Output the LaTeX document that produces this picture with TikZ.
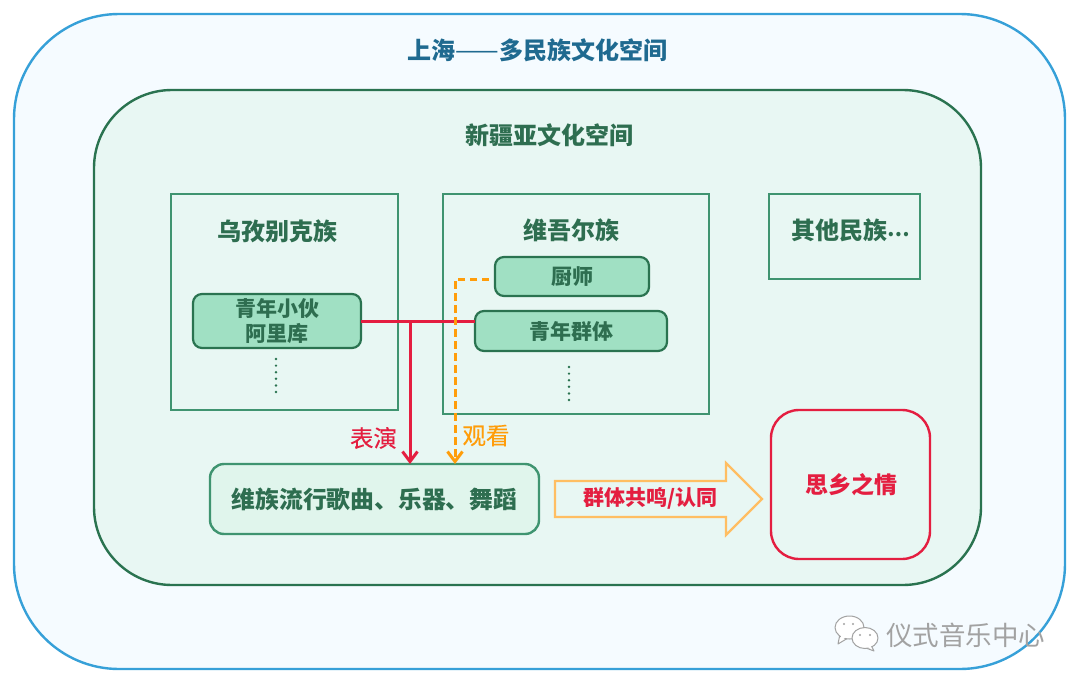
\documentclass[tikz,border=0pt]{standalone}
\usepackage{fontspec}
\usetikzlibrary{arrows.meta}
\newfontfamily\cjk{Noto Sans CJK SC}
\newfontfamily\cjkmed[FakeBold=0.25]{Noto Sans CJK SC}
\definecolor{outerline}{HTML}{36A0D8}
\definecolor{outerfill}{HTML}{F5FBFF}
\definecolor{innerline}{HTML}{2A7350}
\definecolor{innerfill}{HTML}{E8F7F3}
\definecolor{boxline}{HTML}{3F9470}
\definecolor{chipfill}{HTML}{A0E0C3}
\definecolor{songfill}{HTML}{E0F5EC}
\definecolor{titleblue}{HTML}{1F6A90}
\definecolor{txtgreen}{HTML}{2E6E50}
\definecolor{hotred}{HTML}{E41E40}
\definecolor{amber}{HTML}{FF9D0A}
\definecolor{arrowline}{HTML}{FFBE62}
\definecolor{markgrey}{HTML}{A2A2A2}
\tikzset{
  x=1pt,y=-1pt,
  every node/.style={inner sep=0pt,outer sep=0pt,font=\cjk},
  panel/.style={draw=boxline,line width=2.2pt,fill=innerfill,rectangle},
  chip/.style={draw=innerline,line width=2.2pt,fill=chipfill,rounded corners=9pt,rectangle},
  hd/.style={text=txtgreen,font=\cjk\bfseries\fontsize{24}{28}\selectfont},
  sub/.style={text=txtgreen,font=\cjk\bfseries\fontsize{21}{25}\selectfont,align=center},
  rise/.style={font=\cjkmed\fontsize{23.5}{28}\selectfont},
  vdots/.style={draw=innerline,line width=2.7pt,line cap=round,dash pattern=on 0pt off 6.6pt},
  bubble/.style={draw=markgrey,line width=1pt,fill=white,line join=round},
  barb/.style={-{Straight Barb[length=10pt,width=15pt,line width=3pt]}},
}
\begin{document}
\begin{tikzpicture}
\useasboundingbox (0,0) rectangle (1080,683);
\fill[white] (0,0) rectangle (1080,683);
% containers
\node[draw=outerline,fill=outerfill,line width=2.4pt,rounded corners=105pt,minimum width=1051pt,minimum height=655pt] (outer) at (539.5,341.5) {};
\node[draw=innerline,fill=innerfill,line width=2.4pt,rounded corners=78pt,minimum width=887pt,minimum height=495pt] (inner) at (537.5,337.5) {};
\node[text=titleblue,font=\cjk\bfseries\fontsize{24}{28}\selectfont] (title) at (537.5,50) {上海{\mdseries\fontsize{26}{28}\selectfont ——}多民族文化空间};
\node[hd] (subtitle) at (549,135) {新疆亚文化空间};
% groups
\node[panel,minimum width=227pt,minimum height=216pt] (uzbek) at (284.5,302) {};
\node[panel,minimum width=266pt,minimum height=220pt] (uyghur) at (576,304) {};
\node[panel,minimum width=151pt,minimum height=85pt] (others) at (844.5,236.5) {};
\node[hd] (uzbekt) at (277,231) {乌孜别克族};
\node[hd] (uyghurt) at (571.5,230) {维吾尔族};
\node[hd,anchor=west] (otherst) at (791,230) {其他民族\raisebox{3pt}{\fontsize{20}{28}\selectfont ⋯}};
% chips
\node[chip,sub,minimum width=168pt,minimum height=54pt] (youth) at (277,321) {青年小伙\\阿里库};
\node[chip,sub,minimum width=154pt,minimum height=39pt] (chef) at (572,276.5) {\raisebox{-1pt}{厨师}};
\node[chip,sub,minimum width=192pt,minimum height=40pt] (crowd) at (571,331) {青年群体};
\coordinate (d1a) at (276,359); \coordinate (d1b) at (276,393);
\coordinate (d2a) at (569,367); \coordinate (d2b) at (569,401);
\draw[vdots] (d1a) -- (d1b);
\draw[vdots] (d2a) -- (d2b);
% song box
\node[draw=boxline,fill=songfill,line width=2.4pt,rounded corners=14pt,minimum width=329pt,minimum height=70pt,text=txtgreen,font=\cjk\bfseries\fontsize{23.8}{28}\selectfont] (song) at (374.5,499) {\raisebox{-2pt}{维族流行歌曲、乐器、舞蹈}};
% feeling
\node[draw=hotred,fill=innerfill,line width=2.4pt,rounded corners=28pt,minimum width=159pt,minimum height=149pt] (feel) at (850.5,484.5) {};
\node[text=hotred,font=\cjk\bfseries\fontsize{23}{28}\selectfont] (feelt) at (851,485) {思乡之情};
% big arrow
\draw[arrowline,fill=innerfill,line width=2.2pt,miter limit=10] (555,481) -- (726,481) -- (726,463) -- (762,499) -- (726,535) -- (726,517) -- (555,517) -- cycle;
\node[text=hotred,font=\cjk\bfseries\fontsize{21}{25}\selectfont] (bigt) at (650.5,498) {群体共鸣/认同};
% connectors
\coordinate (fork) at (410,321);
\coordinate (orangeturn) at (455,279);
\coordinate (orangestart) at (489,279);
\draw[hotred,line width=3pt] (youth.east) -- (youth.east -| crowd.west);
\draw[hotred,line width=3pt,barb] (fork) -- (fork |- song.north);
\draw[amber,line width=3pt,dash pattern=on 7.5pt off 4.5pt,barb] (orangestart) -- (orangeturn) -- (orangeturn |- song.north);
\node[rise,text=hotred] (perform) at (373.5,438) {表演};
\node[rise,text=amber] (watch) at (486,435.5) {观看};
% watermark
\draw[bubble] (840,634) -- (838,644) -- (848,638) -- cycle;
\draw[bubble] (849.5,627.5) ellipse (14.5pt and 11.5pt);
\fill[white] (842,633) -- (840,641) -- (848,636) -- cycle;
\draw[bubble] (871,645) -- (874,651) -- (866,648) -- cycle;
\draw[bubble] (865,638) ellipse (13pt and 10.5pt);
\fill[white] (870,645) -- (872,649) -- (866,646.5) -- cycle;
\fill[markgrey] (844,624) circle (1.1pt) (853,624) circle (1.1pt) (860,635) circle (1.1pt) (870,635) circle (1.1pt);
\node[text=markgrey,font=\cjk\fontsize{26.5}{30}\selectfont] (mark) at (965.5,635) {仪式音乐中心};
\end{tikzpicture}
\end{document}
